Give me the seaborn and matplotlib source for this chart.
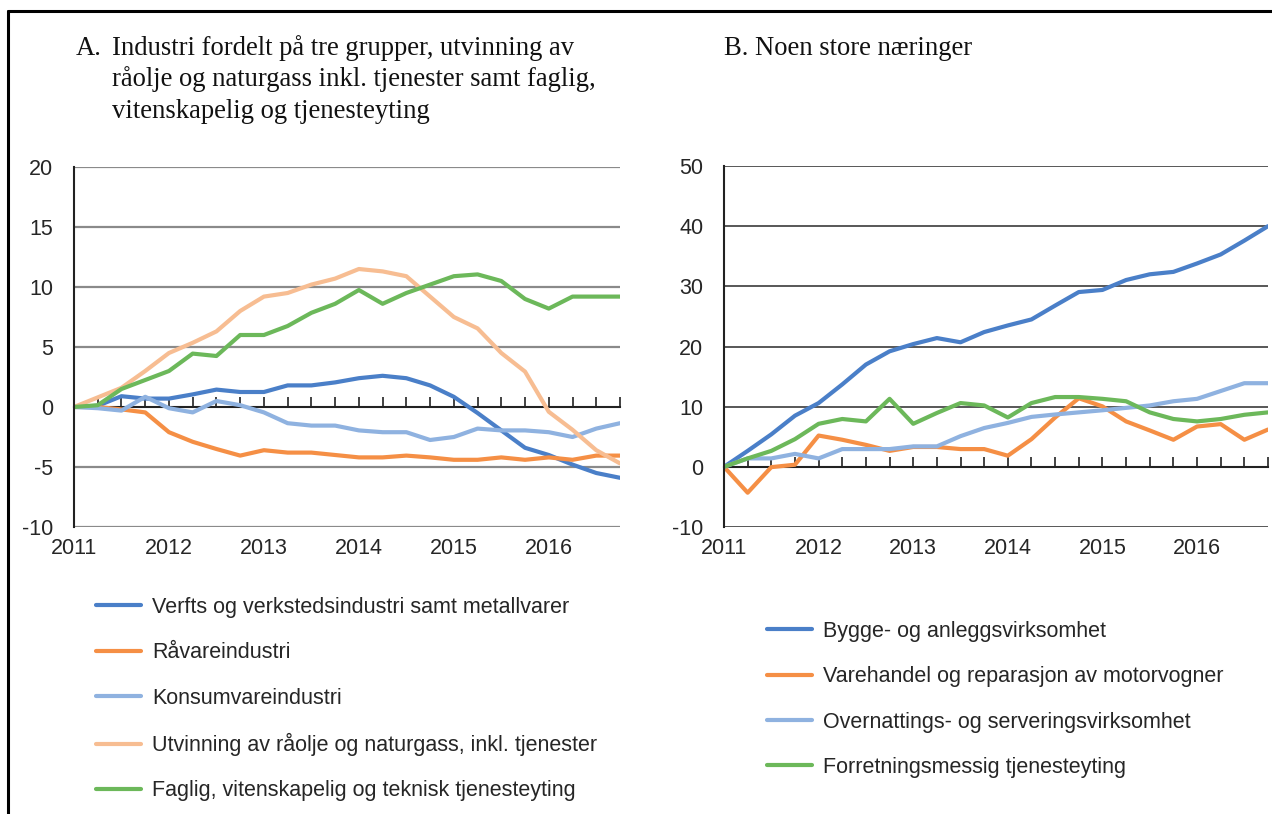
import numpy as np
import pandas as pd
import matplotlib
matplotlib.use('Agg')
import matplotlib.pyplot as plt
from matplotlib.lines import Line2D
import seaborn as sns

aar = ['2011', '2012', '2013', '2014', '2015', '2016']
kvartaler = [f'{a}K{k}' for a in aar for k in range(1, 5)]

# Panel A
navn_a = ['Verfts og verkstedsindustri samt metallvarer',
          'Råvareindustri',
          'Konsumvareindustri',
          'Utvinning av råolje og naturgass, inkl. tjenester',
          'Faglig, vitenskapelig og teknisk tjenesteyting']
verfts = [0, 0.1, 0.9, 0.7, 0.7, 1.05, 1.45, 1.25, 1.25, 1.8, 1.8, 2.05,
          2.4, 2.6, 2.4, 1.8, 0.85, -0.5, -1.95, -3.4, -4.0, -4.8, -5.5, -5.9]
raavare = [0, 0, -0.2, -0.45, -2.1, -2.9, -3.5, -4.05, -3.6, -3.8, -3.8, -4.0,
           -4.2, -4.2, -4.05, -4.2, -4.4, -4.4, -4.2, -4.4, -4.2, -4.4, -4.05, -4.05]
konsum = [0, -0.1, -0.3, 0.85, -0.1, -0.45, 0.5, 0.15, -0.45, -1.35, -1.55, -1.55,
          -1.95, -2.1, -2.1, -2.75, -2.5, -1.8, -1.95, -1.95, -2.1, -2.5, -1.8, -1.35]
utvinning = [0, 0.8, 1.6, 3.0, 4.5, 5.35, 6.3, 8.0, 9.2, 9.5, 10.2, 10.7,
             11.5, 11.3, 10.9, 9.2, 7.5, 6.55, 4.5, 2.95, -0.4, -1.9, -3.6, -4.7]
faglig = [0, 0.15, 1.5, 2.25, 3.0, 4.45, 4.25, 6.0, 6.0, 6.75, 7.85, 8.6,
          9.75, 8.6, 9.5, 10.2, 10.9, 11.05, 10.5, 9.0, 8.2, 9.2, 9.2, 9.2]

# Panel B
navn_b = ['Bygge- og anleggsvirksomhet',
          'Varehandel og reparasjon av motorvogner',
          'Overnattings- og serveringsvirksomhet',
          'Forretningsmessig tjenesteyting']
bygge = [0, 2.65, 5.4, 8.5, 10.6, 13.7, 17.0, 19.2, 20.4, 21.4, 20.7, 22.4,
         23.5, 24.5, 26.8, 29.05, 29.4, 31.05, 32.0, 32.4, 33.8, 35.3, 37.6, 40.0]
varehandel = [0, -4.3, -0.05, 0.35, 5.2, 4.5, 3.65, 2.65, 3.3, 3.3, 2.95, 2.95,
              1.85, 4.6, 8.2, 11.4, 10.05, 7.55, 6.05, 4.5, 6.7, 7.1, 4.5, 6.2]
overnatting = [0, 1.4, 1.4, 2.15, 1.4, 2.95, 2.95, 2.95, 3.4, 3.4, 5.1, 6.45,
               7.3, 8.3, 8.7, 9.05, 9.4, 9.8, 10.2, 10.9, 11.3, 12.6, 13.9, 13.9]
forretning = [0, 1.4, 2.65, 4.6, 7.15, 7.95, 7.55, 11.3, 7.15, 8.95, 10.6, 10.2,
              8.2, 10.6, 11.6, 11.6, 11.3, 10.9, 9.05, 7.95, 7.55, 7.95, 8.65, 9.05]

farger_a = ['#4a7fc8', '#f58f45', '#8fb2e0', '#f7bd92', '#6cb85a']
farger_b = ['#4a7fc8', '#f58f45', '#8fb2e0', '#6cb85a']


def langt_format(navn, serier):
    rader = []
    for n, s in zip(navn, serier):
        for i, v in enumerate(s):
            rader.append({'pos': i, 'kvartal': kvartaler[i], 'serie': n, 'verdi': v})
    return pd.DataFrame(rader)


df_a = langt_format(navn_a, [verfts, raavare, konsum, utvinning, faglig])
df_b = langt_format(navn_b, [bygge, varehandel, overnatting, forretning])

sns.set_style('white')
plt.rcParams['font.family'] = ['Liberation Sans', 'DejaVu Sans']
plt.rcParams['axes.unicode_minus'] = False
tekstfarge = '#262626'

fig = plt.figure(figsize=(12.72, 8.14), dpi=100)
ax_a = fig.add_axes([74 / 1272, 1 - 527 / 814, 546 / 1272, 360 / 814])
ax_b = fig.add_axes([724 / 1272, 1 - 527 / 814, 544 / 1272, 361 / 814])


def tegn_panel(ax, df, navn, farger, ylim, ysteg, gridfarge, gridbredde):
    sns.lineplot(data=df, x='pos', y='verdi', hue='serie', hue_order=navn,
                 palette=farger, linewidth=3.0, ax=ax, legend=False)
    linjer = ax.get_lines()[:len(navn)]
    for ln in linjer:
        ln.set_solid_capstyle('round')
        ln.set_solid_joinstyle('round')
    ax.set_xlim(0, len(kvartaler) - 1)
    ax.set_ylim(*ylim)
    ax.set_yticks(np.arange(ylim[0], ylim[1] + 1, ysteg))
    ax.set_xticks(range(0, len(kvartaler), 4))
    ax.set_xticklabels(aar)
    ax.set_xlabel('')
    ax.set_ylabel('')
    for y in np.arange(ylim[0], ylim[1] + 1, ysteg):
        if y != 0:
            ax.axhline(y, color=gridfarge, lw=gridbredde, zorder=0)
    for s in ['top', 'right', 'bottom']:
        ax.spines[s].set_visible(False)
    ax.spines['left'].set_color('#222222')
    ax.spines['left'].set_linewidth(1.5)
    ax.tick_params(axis='x', length=0, pad=8, labelsize=15.5, labelcolor=tekstfarge)
    ax.tick_params(axis='y', length=0, pad=15, labelsize=15.5, labelcolor=tekstfarge)
    # aksen krysser ved null med kvartalsmerker
    frac = (0 - ylim[0]) / (ylim[1] - ylim[0])
    sek = ax.secondary_xaxis(frac)
    sek.set_xticks(range(len(kvartaler)))
    sek.set_xticklabels([])
    sek.tick_params(direction='in', length=7, width=1.2, color='#222222')
    for s in sek.spines.values():
        s.set_color('#222222')
        s.set_linewidth(1.5)
    return linjer


linjer_a = tegn_panel(ax_a, df_a, navn_a, farger_a, (-10, 20), 5, '#8a8a8a', 1.6)
linjer_b = tegn_panel(ax_b, df_b, navn_b, farger_b, (-10, 50), 10, '#2a2a2a', 1.1)

leg_kw = dict(loc='upper left', frameon=False, fontsize=15.5, handlelength=2.09,
              handletextpad=0.5, labelspacing=1.13, borderpad=0, borderaxespad=0,
              labelcolor=tekstfarge)
fig.legend(linjer_a, navn_a, bbox_to_anchor=(96 / 1272, 1 - 597 / 814), **leg_kw)
fig.legend(linjer_b, navn_b, bbox_to_anchor=(767 / 1272, 1 - 621 / 814), **leg_kw)

# titler
serif = ['Liberation Serif', 'DejaVu Serif']
fig.text(76 / 1272, 1 - 55 / 814, 'A.', family=serif, fontsize=19.2, color='#111111',
         va='baseline')
for j, linje in enumerate(['Industri fordelt på tre grupper, utvinning av',
                           'råolje og naturgass inkl. tjenester samt faglig,',
                           'vitenskapelig og tjenesteyting']):
    fig.text(112 / 1272, 1 - (55 + 31.5 * j) / 814, linje, family=serif, fontsize=19.2,
             color='#111111', va='baseline')
fig.text(724 / 1272, 1 - 55 / 814, 'B. Noen store næringer', family=serif,
         fontsize=19.2, color='#111111', va='baseline')

# ramme
fig.add_artist(Line2D([8 / 1272, 1], [1 - 11 / 814, 1 - 11 / 814],
                      transform=fig.transFigure, color='black', lw=2.2))
fig.add_artist(Line2D([8 / 1272, 8 / 1272], [0, 1 - 11 / 814],
                      transform=fig.transFigure, color='black', lw=2.2))

fig.savefig('out.png', dpi=100)
